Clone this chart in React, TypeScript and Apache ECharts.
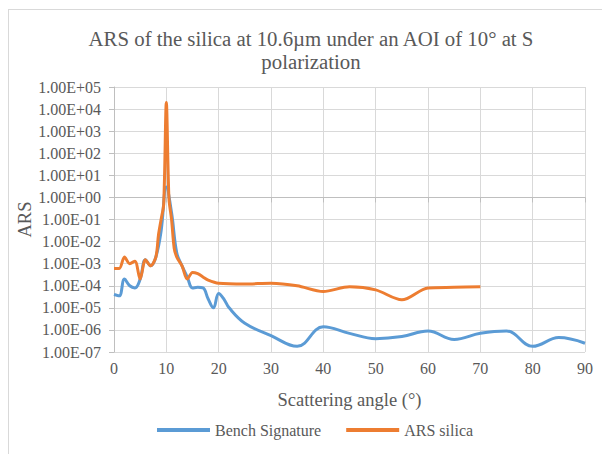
import React, { useEffect, useRef } from "react";
import * as echarts from "echarts";

const benchAngles = [0, 1, 2, 3, 4, 5, 6, 7, 8, 9, 10, 11, 12, 13, 14, 15, 16, 17, 18, 19, 20, 21, 22, 25, 30, 35, 40, 45, 50, 55, 60, 65, 70, 75, 80, 85, 90];
const benchValues = [4e-5, 3.5e-5, 2e-4, 1e-4, 8e-5, 2e-4, 1.5e-3, 8e-4, 2e-3, 3e-2, 3, 0.2, 3e-3, 8e-4, 2.5e-4, 8e-5, 8.5e-5, 8e-5, 2.5e-5, 1e-5, 4.5e-5, 2.5e-5, 1e-5, 2e-6, 5.5e-7, 1.8e-7, 1.4e-6, 7e-7, 4e-7, 5e-7, 9e-7, 3.7e-7, 7e-7, 9e-7, 1.8e-7, 4.5e-7, 2.5e-7];

const silicaAngles = [0, 1, 2, 3, 4, 5, 6, 7, 8, 8.5, 9, 9.5, 10, 10.5, 11, 11.5, 12, 13, 14, 15, 16, 17, 18, 20, 25, 30, 35, 40, 45, 50, 55, 60, 65, 70];
const silicaValues = [6e-4, 6e-4, 2e-3, 1e-3, 1.3e-3, 2e-4, 1.5e-3, 8e-4, 2e-3, 2e-2, 0.1, 0.5, 2e4, 0.9, 0.1, 5e-3, 2e-3, 8e-4, 2e-4, 4e-4, 3.5e-4, 2.5e-4, 1.8e-4, 1.3e-4, 1.2e-4, 1.3e-4, 1e-4, 5.5e-5, 9e-5, 6.5e-5, 2.3e-5, 8e-5, 8.5e-5, 9e-5];

const xTicks = { min: 0, max: 90, interval: 10 };
// y axis in decades (exponent of 10)
const yDecades = { min: -7, max: 5, interval: 1 };

const titleText = "ARS of the silica at 10.6\u00b5m under an AOI of 10\u00b0 at S\npolarization";
const seriesNames = ["Bench Signature", "ARS silica"];

const FONT = "Liberation Serif";
const GREY = "#595959";

function fmtExp(e: number): string {
  const r = Math.round(e);
  const sign = r < 0 ? "-" : "+";
  const a = Math.abs(r);
  return "1.00E" + sign + (a < 10 ? "0" + a : "" + a);
}

export default function App() {
  const ref = useRef<HTMLDivElement>(null);
  useEffect(() => {
    if (!ref.current) return;
    const chart = echarts.init(ref.current, undefined, { renderer: "svg" });
    const bench = benchAngles.map((a, i) => [a, Math.log10(benchValues[i])]);
    const silica = silicaAngles.map((a, i) => [a, Math.log10(silicaValues[i])]);
    chart.setOption({
      animation: false,
      backgroundColor: "#ffffff",
      textStyle: { fontFamily: FONT, color: GREY },
      title: {
        text: titleText,
        left: 306,
        textAlign: "center",
        top: 22,
        textStyle: { fontFamily: FONT, fontSize: 20.8, fontWeight: "normal", color: GREY, lineHeight: 23 },
      },
      graphic: [
        { type: "line", shape: { x1: 8, y1: 9.5, x2: 602, y2: 9.5 }, style: { stroke: "#d9d9d9", lineWidth: 1 } },
        { type: "line", shape: { x1: 8.5, y1: 9, x2: 8.5, y2: 454 }, style: { stroke: "#d9d9d9", lineWidth: 1 } },
      ],
      legend: {
        bottom: 11,
        left: 152,
        icon: "rect",
        itemWidth: 53,
        itemHeight: 4,
        itemGap: 25,
        textStyle: { fontFamily: FONT, fontSize: 16, color: GREY },
        data: seriesNames,
      },
      grid: { left: 114, right: 17, top: 87, bottom: 102 },
      xAxis: {
        type: "value",
        min: xTicks.min,
        max: xTicks.max,
        interval: xTicks.interval,
        name: "Scattering angle (\u00b0)",
        nameLocation: "middle",
        nameGap: 38,
        nameTextStyle: { fontFamily: FONT, fontSize: 18.5, color: GREY },
        axisLine: { show: true, lineStyle: { color: "#bfbfbf" } },
        axisTick: { show: true, length: 5, lineStyle: { color: "#bfbfbf" } },
        axisLabel: { fontFamily: FONT, fontSize: 16, color: GREY, margin: 8 },
        splitLine: { show: true, lineStyle: { color: "#d9d9d9", width: 1 } },
      },
      yAxis: {
        type: "value",
        min: yDecades.min,
        max: yDecades.max,
        interval: yDecades.interval,
        name: "ARS",
        nameLocation: "middle",
        nameGap: 80,
        nameMoveOverlap: false,
        nameTextStyle: { fontFamily: FONT, fontSize: 18.5, color: GREY },
        axisLine: { show: true, lineStyle: { color: "#bfbfbf" } },
        axisTick: { show: true, length: 5, lineStyle: { color: "#bfbfbf" } },
        axisLabel: { fontFamily: FONT, fontSize: 16, color: GREY, margin: 13, formatter: (v: number) => fmtExp(v) },
        splitLine: { show: true, lineStyle: { color: "#d9d9d9", width: 1 } },
      },
      series: [
        {
          name: seriesNames[0],
          type: "line",
          data: bench,
          smooth: 0.4,
          showSymbol: false,
          lineStyle: { color: "#5B9BD5", width: 3 },
          itemStyle: { color: "#5B9BD5" },
        },
        {
          name: seriesNames[1],
          type: "line",
          data: silica,
          smooth: 0.3,
          showSymbol: false,
          lineStyle: { color: "#ED7D31", width: 3 },
          itemStyle: { color: "#ED7D31" },
        },
      ],
    });
    return () => chart.dispose();
  }, []);
  return <div ref={ref} style={{ position: "fixed", left: 0, top: 0, width: 602, height: 454 }} />;
}
